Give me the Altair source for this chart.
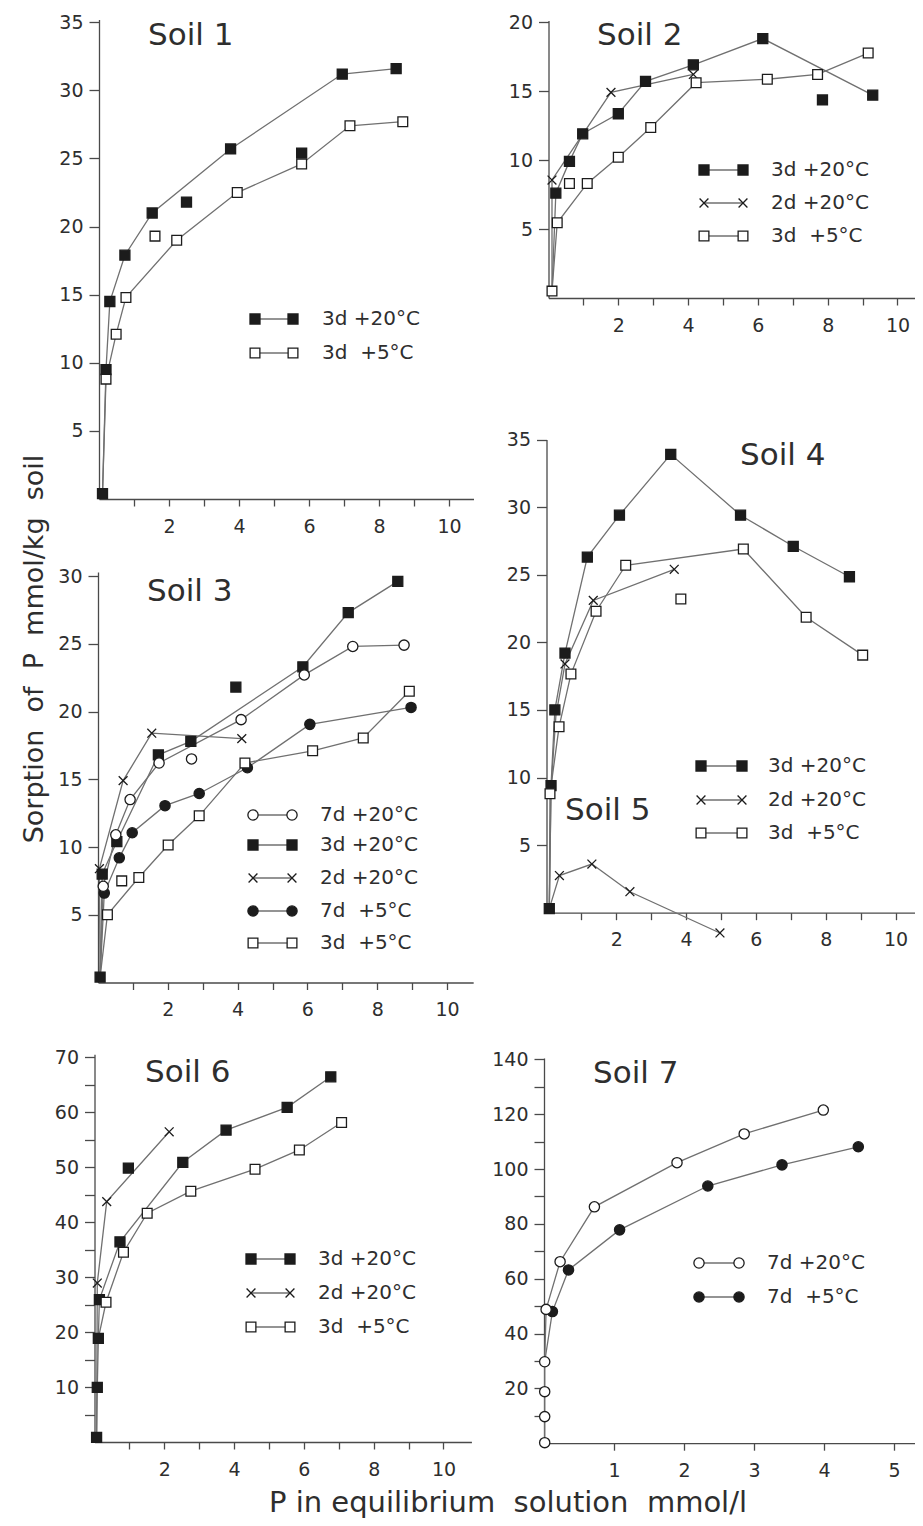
import altair as alt
import pandas as pd

# ------------------------------------------------------------------ data
# Soil 1
S1_3D20_X = [0.1, 0.2, 0.31, 0.74, 1.52, 2.5, 3.76, 5.79, 6.95, 8.49]
S1_3D20_Y = [0.4, 9.5, 14.5, 17.9, 21.0, 21.8, 25.7, 25.4, 31.2, 31.6]
S1_3D20_FREE = [5, 7]
S1_3D5_X = [0.2, 0.49, 0.77, 1.6, 2.22, 3.95, 5.79, 7.17, 8.68]
S1_3D5_Y = [8.8, 12.1, 14.8, 19.3, 19.0, 22.5, 24.6, 27.4, 27.7]
S1_3D5_FREE = [3]

# Soil 2
S2_3D20_X = [0.21, 0.6, 0.98, 2.0, 2.78, 4.15, 6.14, 7.85, 9.29]
S2_3D20_Y = [7.6, 9.9, 11.9, 13.35, 15.7, 16.9, 18.8, 14.35, 14.7]
S2_3D20_FREE = [7]
S2_2D20_X = [0.1, 1.79, 4.15]
S2_2D20_Y = [8.55, 14.9, 16.2]
S2_3D5_X = [0.1, 0.25, 0.6, 1.11, 2.0, 2.93, 4.23, 6.27, 7.71, 9.16]
S2_3D5_Y = [0.5, 5.45, 8.3, 8.3, 10.2, 12.35, 15.6, 15.85, 16.2, 17.75]
S2_3D5_FREE = [2]

# Soil 3
S3_7D20_X = [0.15, 0.51, 0.92, 1.75, 2.68, 4.1, 5.91, 7.3, 8.77]
S3_7D20_Y = [7.1, 10.9, 13.5, 16.2, 16.5, 19.4, 22.7, 24.8, 24.9]
S3_7D20_FREE = [4]
S3_3D20_X = [0.06, 0.12, 0.54, 1.73, 2.66, 3.95, 5.87, 7.17, 8.59]
S3_3D20_Y = [0.4, 8.0, 10.4, 16.8, 17.8, 21.8, 23.3, 27.3, 29.6]
S3_3D20_FREE = [5]
S3_2D20_X = [0.04, 0.72, 1.54, 4.12]
S3_2D20_Y = [8.4, 14.9, 18.4, 18.0]
S3_7D5_X = [0.18, 0.61, 0.98, 1.92, 2.9, 4.28, 6.07, 8.97]
S3_7D5_Y = [6.6, 9.2, 11.05, 13.05, 13.95, 15.85, 19.05, 20.3]
S3_3D5_X = [0.27, 0.68, 1.17, 2.01, 2.9, 4.21, 6.15, 7.6, 8.92]
S3_3D5_Y = [5.0, 7.5, 7.75, 10.15, 12.3, 16.2, 17.1, 18.05, 21.5]
S3_3D5_FREE = [1]

# Soil 4
S4_3D20_X = [0.08, 0.13, 0.24, 0.53, 1.17, 2.09, 3.56, 5.56, 7.07, 8.68]
S4_3D20_Y = [0.3, 9.4, 15.0, 19.2, 26.3, 29.4, 33.9, 29.4, 27.1, 24.85]
S4_2D20_X = [0.53, 1.34, 3.66]
S4_2D20_Y = [18.4, 23.1, 25.4]
S4_3D5_X = [0.1, 0.36, 0.7, 1.42, 2.27, 3.85, 5.64, 7.44, 9.06]
S4_3D5_Y = [8.8, 13.75, 17.65, 22.3, 25.7, 23.2, 26.9, 21.85, 19.05]
S4_3D5_FREE = [5]

# Soil 5 (drawn in the Soil 4 panel)
S5_2D20_X = [0.37, 1.3, 2.39, 4.97]
S5_2D20_Y = [2.75, 3.6, 1.55, -1.5]

# Soil 6
S6_3D20_X = [0.06, 0.08, 0.11, 0.14, 0.73, 0.97, 2.53, 3.77, 5.52, 6.77]
S6_3D20_Y = [0.85, 9.95, 18.85, 25.9, 36.4, 49.8, 50.85, 56.7, 60.85, 66.4]
S6_3D20_FREE = [5]
S6_2D20_X = [0.08, 0.35, 2.14]
S6_2D20_Y = [28.9, 43.7, 56.4]
S6_3D5_X = [0.33, 0.83, 1.51, 2.76, 4.6, 5.87, 7.08]
S6_3D5_Y = [25.4, 34.5, 41.6, 45.6, 49.6, 53.1, 58.1]

# Soil 7
S7_7D20_X = [0.01, 0.01, 0.01, 0.01, 0.03, 0.23, 0.72, 1.9, 2.86, 3.99]
S7_7D20_Y = [0.2, 9.7, 18.8, 29.7, 48.8, 66.2, 86.2, 102.3, 112.8, 121.5]
S7_7D5_X = [0.12, 0.35, 1.08, 2.34, 3.4, 4.49]
S7_7D5_Y = [48.0, 63.2, 77.8, 93.8, 101.5, 108.1]

# line-only starting points (lines run in from the origin)
S1_LEAD = [(0.1, 0.4)]
S2_LEAD = [(0.1, 0.4)]
S3_LEAD = [(0.06, 0.4)]
S4_LEAD = [(0.08, 0.3)]
S4_2D_LEAD = [(0.08, 0.3), (0.13, 9.2), (0.27, 14.6)]
S6_LEAD = [(0.06, 0.85)]
S6_3D5_LEAD = [(0.11, 18.85)]
S7_LEAD = [(0.01, 29.7)]

# panel, series id, marker, xs, ys, unjoined indices, line-only lead points
SERIES = [
    ("s1", "s1a", "sq_f", S1_3D20_X, S1_3D20_Y, S1_3D20_FREE, []),
    ("s1", "s1b", "sq_o", S1_3D5_X, S1_3D5_Y, S1_3D5_FREE, S1_LEAD),
    ("s2", "s2a", "sq_f", S2_3D20_X, S2_3D20_Y, S2_3D20_FREE, S2_LEAD),
    ("s2", "s2b", "x", S2_2D20_X, S2_2D20_Y, [], S2_LEAD),
    ("s2", "s2c", "sq_o", S2_3D5_X, S2_3D5_Y, S2_3D5_FREE, []),
    ("s3", "s3a", "ci_o", S3_7D20_X, S3_7D20_Y, S3_7D20_FREE, S3_LEAD),
    ("s3", "s3b", "sq_f", S3_3D20_X, S3_3D20_Y, S3_3D20_FREE, []),
    ("s3", "s3c", "x", S3_2D20_X, S3_2D20_Y, [], S3_LEAD),
    ("s3", "s3d", "ci_f", S3_7D5_X, S3_7D5_Y, [], S3_LEAD),
    ("s3", "s3e", "sq_o", S3_3D5_X, S3_3D5_Y, S3_3D5_FREE, S3_LEAD),
    ("s4", "s4a", "sq_f", S4_3D20_X, S4_3D20_Y, [], []),
    ("s4", "s4b", "x", S4_2D20_X, S4_2D20_Y, [], S4_2D_LEAD),
    ("s4", "s4c", "sq_o", S4_3D5_X, S4_3D5_Y, S4_3D5_FREE, S4_LEAD),
    ("s4", "s5a", "x", S5_2D20_X, S5_2D20_Y, [], S4_LEAD),
    ("s6", "s6a", "sq_f", S6_3D20_X, S6_3D20_Y, S6_3D20_FREE, []),
    ("s6", "s6b", "x", S6_2D20_X, S6_2D20_Y, [], S6_LEAD),
    ("s6", "s6c", "sq_o", S6_3D5_X, S6_3D5_Y, [], S6_3D5_LEAD),
    ("s7", "s7a", "ci_o", S7_7D20_X, S7_7D20_Y, [], []),
    ("s7", "s7b", "ci_f", S7_7D5_X, S7_7D5_Y, [], S7_LEAD),
]

# legends
LEG_S1 = ["3d +20°C", "3d  +5°C"]
LEG_S2 = ["3d +20°C", "2d +20°C", "3d  +5°C"]
LEG_S3 = ["7d +20°C", "3d +20°C", "2d +20°C", "7d  +5°C", "3d  +5°C"]
LEG_S4 = ["3d +20°C", "2d +20°C", "3d  +5°C"]
LEG_S6 = ["3d +20°C", "2d +20°C", "3d  +5°C"]
LEG_S7 = ["7d +20°C", "7d  +5°C"]
LEG_MK_S1 = ["sq_f", "sq_o"]
LEG_MK_S2 = ["sq_f", "x", "sq_o"]
LEG_MK_S3 = ["ci_o", "sq_f", "x", "ci_f", "sq_o"]
LEG_MK_S4 = ["sq_f", "x", "sq_o"]
LEG_MK_S6 = ["sq_f", "x", "sq_o"]
LEG_MK_S7 = ["ci_o", "ci_f"]

TITLES = ["Soil 1", "Soil 2", "Soil 3", "Soil 4", "Soil 5", "Soil 6", "Soil 7"]
Y_TITLE = "Sorption  of  P  mmol/kg  soil"
X_TITLE = "P in equilibrium  solution  mmol/l"

# ------------------------------------------------------------------ layout / style
W, H, OFF = 907, 1514, 8
FONT = "DejaVu Sans"
INK = "#1c1c1c"
LINE = "#707070"
AXC = "#4a4a4a"
TXT = "#2e2e2e"

MARK = {
    "sq_f": {"shape": "square", "fill": INK, "size": 100, "rank": 0},
    "ci_f": {"shape": "circle", "fill": INK, "size": 105, "rank": 0},
    "x": {"shape": "M-1,-1L1,1M-1,1L1,-1", "fill": "transparent", "size": 78, "rank": 1},
    "sq_o": {"shape": "square", "fill": "white", "size": 95, "rank": 2},
    "ci_o": {"shape": "circle", "fill": "white", "size": 105, "rank": 2},
}

EVEN = "datum.value % 2 === 0 ? datum.label : ''"
GEOM = {  # page coordinates of the axis origin, pixels per unit, axis extent
    "s1": dict(x0=99, xu=35.0, xmax=10.7, y0=499, yu=13.62, ymax=35.2,
               xt=list(range(1, 11)), xl=EVEN, yt=list(range(5, 36, 5)), yl=None),
    "s2": dict(x0=548.5, xu=34.9, xmax=10.65, y0=298, yu=13.8, ymax=20.1,
               xt=list(range(1, 11)), xl=EVEN, yt=[5, 10, 15, 20], yl=None),
    "s3": dict(x0=98, xu=34.9, xmax=10.75, y0=982.5, yu=13.55, ymax=30.3,
               xt=list(range(1, 11)), xl=EVEN, yt=list(range(5, 31, 5)), yl=None),
    "s4": dict(x0=546.5, xu=34.9, xmax=10.7, y0=912.7, yu=13.52, ymax=35.0,
               xt=list(range(1, 11)), xl=EVEN, yt=list(range(5, 36, 5)), yl=None),
    "s6": dict(x0=94.5, xu=34.9, xmax=10.8, y0=1442, yu=5.5, ymax=70.5,
               xt=list(range(1, 11)), xl=EVEN, yt=list(range(5, 71, 5)),
               yl="datum.value % 10 === 0 ? datum.label : ''"),
    "s7": dict(x0=544, xu=70.0, xmax=5.3, y0=1443.2, yu=2.742, ymax=140.5,
               xt=[1, 2, 3, 4, 5], xl=None, yt=list(range(10, 141, 10)),
               yl="datum.value % 20 === 0 ? datum.label : ''"),
}

LEG_LAYOUT = {  # (left key x, right key x, text x, row ys) in page coords
    "s1": (255, 293, 322, [319, 353], LEG_S1, LEG_MK_S1),
    "s2": (704, 743, 771, [170, 203, 236], LEG_S2, LEG_MK_S2),
    "s3": (253, 292, 320, [815, 845, 878, 911, 943], LEG_S3, LEG_MK_S3),
    "s4": (701, 742, 768, [766, 800, 833], LEG_S4, LEG_MK_S4),
    "s6": (251, 290, 318, [1259, 1293, 1327], LEG_S6, LEG_MK_S6),
    "s7": (699, 739, 767, [1263, 1297], LEG_S7, LEG_MK_S7),
}
TITLE_POS = [(148, 45), (597, 45), (147, 601), (740, 465), (565, 820), (145, 1082), (593, 1083)]

# ------------------------------------------------------------------ tables
rows = []
for pid, sid, mk, xs, ys, free, lead in SERIES:
    st = MARK[mk]
    o = 0
    for lx, ly in lead:
        rows.append(dict(panel=pid, sid=sid, x=lx, y=ly, ord=o, ln=1, mk=0,
                         shp=st["shape"], fc=st["fill"], sz=st["size"], rank=st["rank"]))
        o += 1
    for i, (xv, yv) in enumerate(zip(xs, ys)):
        rows.append(dict(panel=pid, sid=sid, x=xv, y=yv, ord=o, ln=0 if i in free else 1, mk=1,
                         shp=st["shape"], fc=st["fill"], sz=st["size"], rank=st["rank"]))
        o += 1
df = pd.DataFrame(rows).sort_values("rank", kind="stable").reset_index(drop=True)

lrows = []
for pid, (xa, xb, xt, ys, labs, mks) in LEG_LAYOUT.items():
    for yy, lab, mk in zip(ys, labs, mks):
        st = MARK[mk]
        lrows.append(dict(lx1=xa - OFF, lx2=xb - OFF, lxt=xt - OFF, ly=yy - OFF,
                          lab=lab.replace(" ", "\u00a0"), shp=st["shape"], fc=st["fill"],
                          sz=st["size"]))
leg = pd.DataFrame(lrows)

tdf = pd.DataFrame(dict(t=[t.replace(" ", "\u00a0") for t in TITLES],
                        tx=[p[0] - OFF for p in TITLE_POS],
                        ty=[p[1] - OFF for p in TITLE_POS]))


def axis(orient, offset, values, expr, tick, pad):
    kw = dict(orient=orient, offset=offset, values=values, tickSize=tick, labelPadding=pad,
              title=None, grid=False, labelFlush=False, labelOverlap=False)
    if expr:
        kw["labelExpr"] = expr
    return alt.Axis(**kw)


def panel(pid):
    g = GEOM[pid]
    d = df[df.panel == pid]
    x0, y0 = g["x0"] - OFF, g["y0"] - OFF
    xs = alt.Scale(domain=[0, g["xmax"]], range=[x0, x0 + g["xmax"] * g["xu"]], nice=False, zero=False)
    ys = alt.Scale(domain=[0, g["ymax"]], range=[y0, y0 - g["ymax"] * g["yu"]], nice=False, zero=False)
    xa = axis("bottom", y0 - H, g["xt"], g["xl"], 7, 11)
    ya = axis("left", -x0, g["yt"], g["yl"], 10, 6)
    base = alt.Chart(d)
    lines = base.transform_filter("datum.ln == 1").mark_line(color=LINE, strokeWidth=1.3).encode(
        x=alt.X("x:Q", scale=xs, axis=xa),
        y=alt.Y("y:Q", scale=ys, axis=ya),
        detail="sid:N",
        order="ord:Q",
    )
    pts = base.transform_filter("datum.mk == 1").mark_point(
        filled=True, stroke=INK, strokeWidth=1.3, opacity=1
    ).encode(
        x=alt.X("x:Q", scale=xs, axis=xa),
        y=alt.Y("y:Q", scale=ys, axis=ya),
        shape=alt.Shape("shp:N", scale=None),
        fill=alt.Fill("fc:N", scale=None),
        size=alt.Size("sz:Q", scale=None),
    )
    return alt.layer(lines, pts)


panels = [panel(p) for p in ["s1", "s2", "s3", "s4", "s6", "s7"]]

lbase = alt.Chart(leg)
leg_rule = lbase.mark_rule(color=LINE, strokeWidth=1.3).encode(
    x=alt.X("lx1:Q", scale=None, axis=None), x2="lx2:Q",
    y=alt.Y("ly:Q", scale=None, axis=None))
leg_pts = [
    lbase.mark_point(filled=True, stroke=INK, strokeWidth=1.3, opacity=1).encode(
        x=alt.X(f"{c}:Q", scale=None, axis=None), y=alt.Y("ly:Q", scale=None, axis=None),
        shape=alt.Shape("shp:N", scale=None), fill=alt.Fill("fc:N", scale=None),
        size=alt.Size("sz:Q", scale=None))
    for c in ["lx1", "lx2"]
]
leg_txt = lbase.mark_text(align="left", baseline="middle", font=FONT, fontSize=20, color=TXT).encode(
    x=alt.X("lxt:Q", scale=None, axis=None), y=alt.Y("ly:Q", scale=None, axis=None), text="lab:N")

titles = alt.Chart(tdf).mark_text(align="left", baseline="alphabetic", font=FONT, fontSize=31,
                                  color=TXT).encode(
    x=alt.X("tx:Q", scale=None, axis=None), y=alt.Y("ty:Q", scale=None, axis=None), text="t:N")

ytitle = alt.Chart(pd.DataFrame({"t": [Y_TITLE.replace("  ", "\u00a0 ")]})).mark_text(
    angle=270, align="center", baseline="middle", font=FONT, fontSize=27, color=TXT
).encode(x=alt.value(35 - OFF), y=alt.value(649 - OFF), text="t:N")

xtitle = alt.Chart(pd.DataFrame({"t": [X_TITLE.replace("  ", "\u00a0 ")]})).mark_text(
    align="center", baseline="alphabetic", font=FONT, fontSize=29, color=TXT
).encode(x=alt.value(508 - OFF), y=alt.value(1512 - OFF), text="t:N")

chart = alt.layer(
    *panels, leg_rule, *leg_pts, leg_txt, titles, ytitle, xtitle
).resolve_scale(
    x="independent", y="independent"
).properties(
    width=W, height=H, autosize=alt.AutoSizeParams(type="none"), padding=0
).configure_view(
    stroke=None
).configure_axis(
    domainColor=AXC, tickColor=AXC, labelColor=TXT, labelFont=FONT, labelFontSize=19,
    domainWidth=1.3, tickWidth=1.3
)

chart.save("out.html", embed_options={"renderer": "svg", "actions": False})
